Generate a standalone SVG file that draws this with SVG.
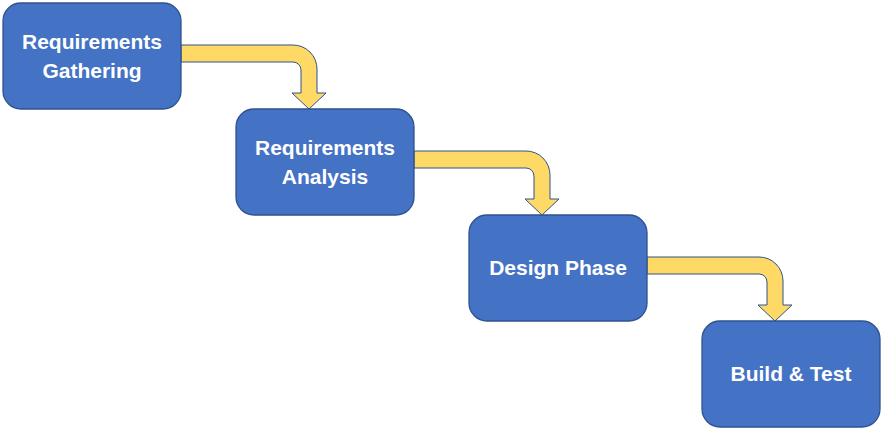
<svg xmlns="http://www.w3.org/2000/svg" width="885" height="431" viewBox="0 0 885 431">
<defs>
<style>
.box{fill:#4472C4;stroke:#2F528F;stroke-width:1.3}
.arr{fill:#FFD966;stroke:#2F528F;stroke-width:1}
.t{font-family:"Liberation Sans",Arial,sans-serif;font-weight:bold;font-size:21px;fill:#fff;text-anchor:middle}
</style>
<path id="a" class="arr" d="M181,45 H293 A24,24 0 0 1 317,69 V93 H326 L309,109 L292,93 H301 V70 A8,8 0 0 0 293,62 H181 Z"/>
</defs>
<rect width="885" height="431" fill="#fff"/>
<g id="connectors">
<use href="#a"/>
<use href="#a" transform="translate(233,106)"/>
<use href="#a" transform="translate(466,212)"/>
</g>
<g id="n1"><rect class="box" x="3" y="3" width="178" height="106" rx="18"/><text class="t" x="92" y="49">Requirements</text><text class="t" x="92" y="78">Gathering</text></g>
<g id="n2"><rect class="box" x="236" y="109" width="178" height="106" rx="18"/><text class="t" x="325" y="155">Requirements</text><text class="t" x="325" y="184">Analysis</text></g>
<g id="n3"><rect class="box" x="469" y="215" width="178" height="106" rx="18"/><text class="t" x="558" y="275">Design Phase</text></g>
<g id="n4"><rect class="box" x="702" y="321" width="178" height="106" rx="18"/><text class="t" x="791" y="381">Build &amp; Test</text></g>
</svg>
